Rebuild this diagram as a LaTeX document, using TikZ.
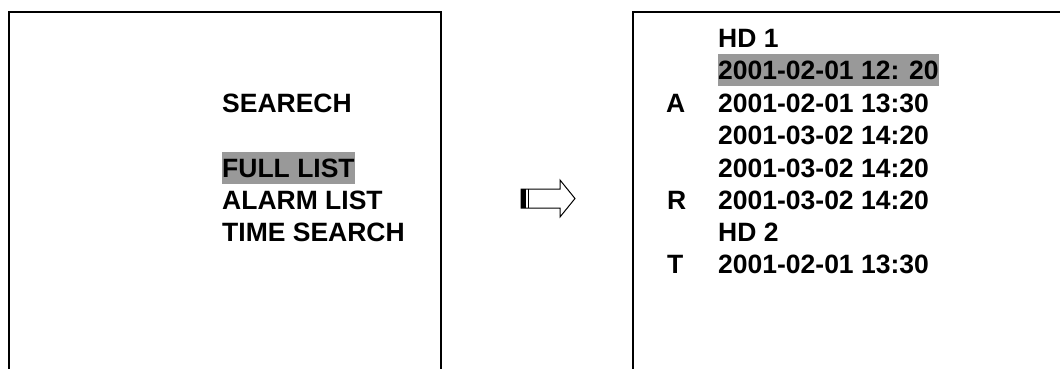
\documentclass[tikz,border=0pt]{standalone}
\usepackage{fontspec}
\setmainfont{Liberation Sans}
\definecolor{hl}{RGB}{153,153,153}
\tikzset{
  screen/.style={draw=black, line width=1.8pt},
  txt/.style={anchor=base west, inner sep=0pt, font=\bfseries\fontsize{26.5}{30}\selectfont},
  hltxt/.style={txt, fill=hl, text height=25.5pt, text depth=7pt},
}
\begin{document}
\begin{tikzpicture}[x=1pt,y=-1pt]
\useasboundingbox (0,0) rectangle (1060,368);
\clip (0,0) rectangle (1060,368);
% screens
\draw[screen] (9,12) rectangle (441,390);
\draw[screen] (633,12) rectangle (1080,390);
% left menu
\node[txt]   (search) at (222,112) {SEARECH};
\node[hltxt] (full)   at (222,177) {FULL LIST};
\node[txt]   (alarm)  at (222,209) {ALARM LIST};
\node[txt]   (time)   at (222,241) {TIME SEARCH};
% right list
\node[txt]   (hd1) at (718,47)  {HD 1};
\node[hltxt] (l1)  at (718,79)  {2001-02-01 12: 20};
\node[txt]   (l2)  at (718,112) {2001-02-01 13:30};
\node[txt]   (l3)  at (718,144) {2001-03-02 14:20};
\node[txt]   (l4)  at (718,177) {2001-03-02 14:20};
\node[txt]   (l5)  at (718,209) {2001-03-02 14:20};
\node[txt]   (hd2) at (718,241) {HD 2};
\node[txt]   (l6)  at (718,273) {2001-02-01 13:30};
\node[txt]   (ka)  at (666,112) {A};
\node[txt]   (kr)  at (667,209) {R};
\node[txt]   (kt)  at (667,273) {T};
% block arrow
\draw[line width=1pt, line join=miter] (521,189) -- (560,189) -- (560,180) -- (575,198.5)
  -- (560,217) -- (560,208) -- (521,208) -- cycle;
\fill (521,189) rectangle (525.5,208);
\draw[line width=1pt] (528,189) -- (528,208);
\end{tikzpicture}
\end{document}
